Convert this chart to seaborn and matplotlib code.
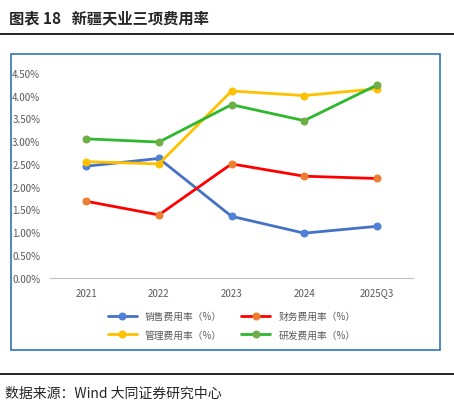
import numpy as np
import pandas as pd
import matplotlib.pyplot as plt
import matplotlib.patches as patches
import seaborn as sns

years = ['2021', '2022', '2023', '2024', '2025Q3']
sales = [2.45, 2.62, 1.35, 0.98, 1.13]
finance = [1.68, 1.38, 2.50, 2.23, 2.18]
manage = [2.55, 2.50, 4.10, 4.00, 4.15]
rnd = [3.05, 2.98, 3.80, 3.45, 4.23]

names = ['销售费用率（%）', '财务费用率（%）', '管理费用率（%）', '研发费用率（%）']
line_colors = ['#4472C4', '#FF0000', '#FFC000', '#2EB82E']
marker_colors = ['#4F81D8', '#ED7D31', '#FFC000', '#70AD47']

df = pd.DataFrame({'year': years * 4,
                   'value': sales + finance + manage + rnd,
                   'series': np.repeat(names, len(years))})

sns.set_style('white')
plt.rcParams['font.family'] = ['Noto Sans CJK SC', 'DejaVu Sans']

fig = plt.figure(figsize=(4.54, 4.10), dpi=100)
ax = fig.add_axes([0.11, 0.32, 0.80, 0.50])

for name, lc, mc in zip(names, line_colors, marker_colors):
    sub = df[df.series == name]
    sns.lineplot(data=sub, x='year', y='value', ax=ax, color=lc, linewidth=2,
                 marker='o', markersize=5, markerfacecolor=mc, markeredgecolor=mc,
                 label=name, sort=False)

ax.set_ylim(0, 4.5)
ax.set_yticks(np.arange(0, 4.51, 0.5))
ax.set_yticklabels([f'{v:.2f}%' for v in np.arange(0, 4.51, 0.5)], fontsize=7, color='#595959')
ax.tick_params(axis='x', labelsize=7, colors='#595959')
ax.set_xlim(-0.5, 4.5)
ax.set_xlabel('')
ax.set_ylabel('')
for s in ['top', 'right', 'left']:
    ax.spines[s].set_visible(False)
ax.spines['bottom'].set_color('#BFBFBF')

# ncol=2 fills column-wise, so reorder to get 销售/财务 on the first row
handles, labels = ax.get_legend_handles_labels()
order = [0, 2, 1, 3]
ax.legend([handles[i] for i in order], [labels[i] for i in order],
          loc='upper center', bbox_to_anchor=(0.5, -0.12), ncol=2, frameon=False,
          fontsize=7, handlelength=3, columnspacing=2, labelspacing=0.9,
          labelcolor='#595959')

fig.add_artist(patches.Rectangle((0.025, 0.145), 0.945, 0.72, transform=fig.transFigure,
                                 fill=False, edgecolor='#2E75B6', linewidth=1.2))
fig.text(0.02, 0.955, '图表 18   新疆天业三项费用率', fontsize=11, fontweight='bold', va='center')
fig.add_artist(plt.Line2D([0.0, 1.0], [0.915, 0.915], color='black', linewidth=1.2))
fig.add_artist(plt.Line2D([0.0, 1.0], [0.085, 0.085], color='black', linewidth=1.2))
fig.text(0.01, 0.04, '数据来源：Wind 大同证券研究中心', fontsize=10, va='center')

fig.savefig('out.png', dpi=100)
